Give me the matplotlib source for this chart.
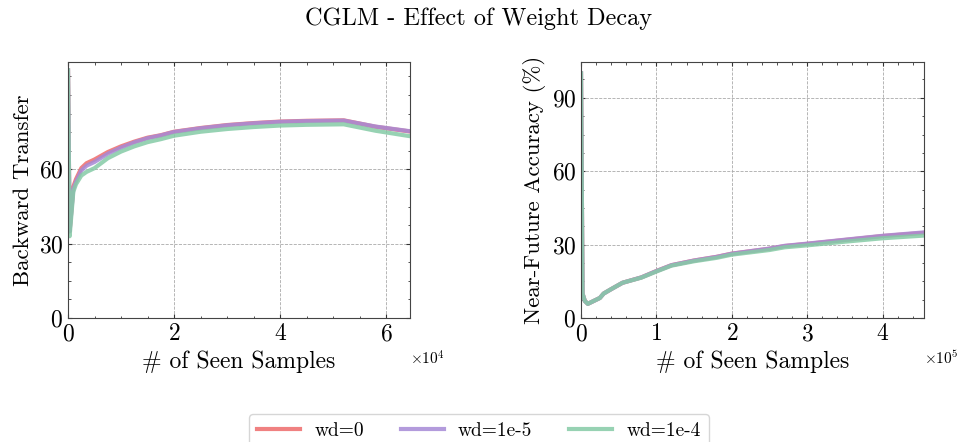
import numpy as np
import matplotlib
matplotlib.use("Agg")
import matplotlib.pyplot as plt
from matplotlib.ticker import AutoMinorLocator

# style proche de SciencePlots (police Computer Modern)
plt.rcParams['font.family'] = 'serif'
plt.rcParams['font.serif'] = ['cmr10']
plt.rcParams['mathtext.fontset'] = 'cm'
plt.rcParams['axes.formatter.use_mathtext'] = True
plt.rcParams['axes.unicode_minus'] = False

# Données
# ==========================
labels = ['wd=0', 'wd=1e-5', 'wd=1e-4']
colors = ['#ee6b6b', '#a68ad6', '#85cba6']

# Backward transfer (gauche)
x_bwt = [0, 300, 1000, 1500, 2500, 3500, 5000, 7500, 10000, 12500, 15000,
         17500, 20000, 25000, 30000, 35000, 40000, 45000, 52000, 58000, 64500]
bwt_wd0 = [100, 35, 53, 56, 60.5, 62.5, 64, 67, 69.3, 71.2, 72.8,
           73.8, 75.2, 76.7, 77.9, 78.7, 79.3, 79.6, 79.8, 77.2, 75.3]
bwt_wd1e5 = [100, 35, 52, 55, 59.5, 61.5, 63, 66.3, 68.8, 70.9, 72.6,
             73.7, 75.1, 76.6, 77.8, 78.6, 79.2, 79.5, 79.7, 77.3, 75.4]
bwt_wd1e4 = [100, 33, 51, 54, 57.5, 59, 60.5, 64.5, 67.2, 69.3, 71.0,
             72.2, 73.6, 75.2, 76.3, 77.1, 77.7, 78.0, 78.2, 75.6, 73.4]

# Near-future accuracy (droite)
x_nfa = [0, 2000, 5000, 9000, 25000, 30000, 40000, 55000, 80000, 100000,
         120000, 150000, 180000, 200000, 250000, 270000, 300000, 350000,
         400000, 455000]
nfa_wd0 = [100, 10, 7, 5.8, 8.2, 10, 11.8, 14.4, 16.6, 19.2, 21.6, 23.5,
           25.0, 26.3, 28.3, 29.4, 30.3, 31.9, 33.5, 34.8]
nfa_wd1e5 = [100, 10, 7, 5.8, 8.2, 10, 11.8, 14.4, 16.6, 19.2, 21.6, 23.5,
             25.0, 26.3, 28.4, 29.5, 30.4, 32.0, 33.6, 35.0]
nfa_wd1e4 = [100, 10, 7, 5.8, 8.2, 10, 11.8, 14.4, 16.5, 19.0, 21.4, 23.2,
             24.6, 25.9, 27.8, 28.9, 29.7, 31.2, 32.6, 33.7]

bwt_series = [bwt_wd0, bwt_wd1e5, bwt_wd1e4]
nfa_series = [nfa_wd0, nfa_wd1e5, nfa_wd1e4]


def style_ax(ax):
    ax.tick_params(which='both', direction='in', top=True, right=True,
                   labelsize=17, colors='#333333', labelcolor='black')
    ax.tick_params(which='major', length=3)
    ax.tick_params(which='minor', length=1.8)
    ax.grid(True, which='major', ls='--', lw=0.6, color='#aaaaaa')
    for s in ax.spines.values():
        s.set_color('#444444')
        s.set_linewidth(0.8)
    off = ax.xaxis.get_offset_text()
    off.set_fontsize(11)
    off.set_ha('left')


fig = plt.figure(figsize=(9.58, 4.42), dpi=100)
ax1 = fig.add_axes([0.071, 0.2805, 0.357, 0.5795])
ax2 = fig.add_axes([0.6065, 0.2805, 0.358, 0.5795])

for y, c, l in zip(bwt_series, colors, labels):
    ax1.plot(x_bwt, y, color=c, lw=3, alpha=0.85, label=l)
for y, c, l in zip(nfa_series, colors, labels):
    ax2.plot(x_nfa, y, color=c, lw=3, alpha=0.85, label=l)

ax1.set_xlim(0, 64500)
ax1.set_ylim(0, 103.4)
ax1.set_yticks([0, 30, 60])
ax1.set_xticks([0, 20000, 40000, 60000])
ax1.xaxis.set_minor_locator(AutoMinorLocator(4))
ax1.yaxis.set_minor_locator(AutoMinorLocator(4))
ax1.ticklabel_format(axis='x', style='sci', scilimits=(0, 0))
ax1.set_xlabel('# of Seen Samples', fontsize=17)
ax1.set_ylabel('Backward Transfer', fontsize=16.5)
style_ax(ax1)

ax2.set_xlim(0, 455000)
ax2.set_ylim(0, 104.7)
ax2.set_yticks([0, 30, 60, 90])
ax2.set_xticks([0, 100000, 200000, 300000, 400000])
ax2.xaxis.set_minor_locator(AutoMinorLocator(5))
ax2.yaxis.set_minor_locator(AutoMinorLocator(4))
ax2.ticklabel_format(axis='x', style='sci', scilimits=(0, 0))
ax2.set_xlabel('# of Seen Samples', fontsize=17)
ax2.set_ylabel('Near-Future Accuracy (%)', fontsize=16.5)
style_ax(ax2)

fig.suptitle('CGLM - Effect of Weight Decay', fontsize=17.5, y=0.982)

h, l = ax1.get_legend_handles_labels()
leg = fig.legend(h, l, loc='upper center', bbox_to_anchor=(0.5, 0.085),
                 ncol=3, fontsize=14, handlelength=2.2, columnspacing=1.9,
                 handletextpad=0.75,
                 frameon=True, fancybox=True, edgecolor='#cccccc')
for line in leg.get_lines():
    line.set_linewidth(3)
    line.set_alpha(0.85)

fig.savefig('out.png', dpi=100)
